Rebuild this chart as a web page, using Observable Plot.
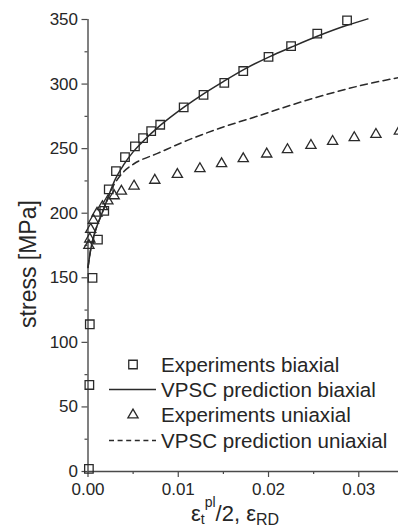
<!DOCTYPE html>
<html>
<head>
<meta charset="utf-8">
<script src="https://cdn.jsdelivr.net/npm/d3@7"></script>
<script src="https://cdn.jsdelivr.net/npm/@observablehq/plot@0.6"></script>
<style>
  html, body { margin: 0; padding: 0; background: #fff; }
  #chart svg { display: block; }
</style>
</head>
<body>
<div id="chart"></div>
<script>
// Experiments, biaxial: strain (eps_t^pl / 2) and stress [MPa]
const biaxExpStrain = [0.0001, 0.00015, 0.0002, 0.0005, 0.0011, 0.0018, 0.0023, 0.0031, 0.0041, 0.0052, 0.0061, 0.0070, 0.0080, 0.0106, 0.0128, 0.0151, 0.0172, 0.0200, 0.0225, 0.0254, 0.0287];
const biaxExpStress = [2, 67, 114, 150, 179.5, 201.8, 218.5, 232.6, 243.5, 251.7, 258.2, 263.6, 268.5, 282, 291.7, 301, 310.1, 321, 329.4, 339, 349.3];

// VPSC prediction, biaxial
const biaxVpscStrain = [0, 0.0003, 0.0008, 0.0015, 0.0022, 0.003, 0.004, 0.005, 0.006, 0.008, 0.0106, 0.0128, 0.015, 0.0173, 0.0202, 0.0225, 0.0254, 0.0287, 0.031];
const biaxVpscStress = [158, 172, 186, 199, 212, 226, 238, 247.5, 255, 268, 282, 292.5, 302, 311.4, 321.5, 328.5, 337, 345.5, 350.5];

// Experiments, uniaxial: strain (eps_RD) and stress [MPa]
const uniExpStrain = [0.0001, 0.0002, 0.0003, 0.0006, 0.0010, 0.0016, 0.0022, 0.0029, 0.0037, 0.0051, 0.0074, 0.0099, 0.0124, 0.0148, 0.0172, 0.0198, 0.0221, 0.0247, 0.0271, 0.0295, 0.0319, 0.0345];
const uniExpStress = [175, 180, 187.5, 194.5, 200, 205, 209.5, 213.5, 217, 221, 225.5, 230, 234.5, 238.3, 242.2, 245.8, 249.2, 252.5, 255.6, 258.5, 261, 263.6];

// VPSC prediction, uniaxial
const uniVpscStrain = [0, 0.0003, 0.0008, 0.0015, 0.0022, 0.0025, 0.0031, 0.004, 0.0051, 0.0077, 0.011, 0.0151, 0.0188, 0.0224, 0.0261, 0.0298, 0.0344];
const uniVpscStress = [158, 172, 186, 199, 211.5, 217, 224.5, 232.5, 238.3, 246.3, 256.4, 267, 275.2, 283.5, 291.3, 298.2, 305];

const yMajorTicks = [0, 50, 100, 150, 200, 250, 300, 350];
const yMinorTicks = [25, 75, 125, 175, 225, 275, 325];
const xMajorTicks = [0, 0.01, 0.02, 0.03];
const xMinorTicks = [0.005, 0.015, 0.025];

const legendLabels = ["Experiments biaxial", "VPSC prediction biaxial", "Experiments uniaxial", "VPSC prediction uniaxial"];

const pairs = (xs, ys) => xs.map((x, i) => ({x, y: ys[i]}));
const biaxExp = pairs(biaxExpStrain, biaxExpStress);
const biaxVpsc = pairs(biaxVpscStrain, biaxVpscStress);
const uniExp = pairs(uniExpStrain, uniExpStress);
const uniVpsc = pairs(uniVpscStrain, uniVpscStress);

const ink = "#2a2a2a";
const axisInk = "#4a4a4a";

const chart = Plot.plot({
  width: 398,
  height: 528,
  marginLeft: 87.5,
  marginRight: 0,
  marginTop: 19,
  marginBottom: 57,
  style: {fontFamily: "'Liberation Sans', Arial, sans-serif", fontSize: "17px", color: "#262626", background: "#fff"},
  x: {domain: [0, 0.0344]},
  y: {domain: [0, 350]},
  marks: [
    Plot.axisY({ticks: yMajorTicks, tickSize: 6, tickPadding: 4, label: null, stroke: axisInk, strokeWidth: 1.2}),
    Plot.axisY({ticks: yMinorTicks, tickSize: 3, tickFormat: () => "", label: null, stroke: axisInk, strokeWidth: 1.2}),
    Plot.axisX({ticks: xMajorTicks, tickSize: 6, tickPadding: 5, tickFormat: d3.format(".2f"), label: null, stroke: axisInk, strokeWidth: 1.2}),
    Plot.axisX({ticks: xMinorTicks, tickSize: 3, tickFormat: () => "", label: null, stroke: axisInk, strokeWidth: 1.2}),
    Plot.ruleX([0], {stroke: axisInk, strokeWidth: 1.4}),
    Plot.ruleY([0], {stroke: axisInk, strokeWidth: 1.4}),
    Plot.line(uniVpsc, {x: "x", y: "y", curve: "monotone-x", stroke: ink, strokeWidth: 1.5, strokeDasharray: "7,4.5"}),
    Plot.line(biaxVpsc, {x: "x", y: "y", curve: "monotone-x", stroke: ink, strokeWidth: 1.5}),
    Plot.dot(biaxExp, {x: "x", y: "y", symbol: "square", r: 4.8, stroke: ink, strokeWidth: 1.3, fill: "none"}),
    Plot.dot(uniExp, {x: "x", y: "y", symbol: "triangle", r: 3.8, stroke: ink, strokeWidth: 1.3, fill: "none"})
  ]
});

const svg = d3.select(chart);

// y-axis title
svg.append("text")
  .attr("transform", "translate(36,264) rotate(-90)")
  .attr("text-anchor", "middle")
  .attr("font-size", 23)
  .attr("fill", "#262626")
  .text("stress [MPa]");

// x-axis title with sub/superscripts
const xt = svg.append("text")
  .attr("x", 191)
  .attr("y", 521)
  .attr("text-anchor", "start")
  .attr("font-size", 22)
  .attr("fill", "#262626");
xt.append("tspan").text("ε");
xt.append("tspan").attr("font-size", 14).attr("dy", 3).text("t");
xt.append("tspan").attr("font-size", 14).attr("dy", -17).text("pl");
xt.append("tspan").attr("dy", 14).text("/2, ε");
xt.append("tspan").attr("font-size", 16).attr("dy", 4).text("RD");

// legend
const lg = svg.append("g").attr("font-size", 19.5).attr("fill", "#262626").attr("text-anchor", "start");
const rowY = [364.5, 389.5, 415, 440.5];
const sym = (type, r) => d3.symbol(type, Math.PI * r * r)();
lg.append("path").attr("d", sym(d3.symbolSquare, 4.8)).attr("transform", `translate(133,${rowY[0]})`)
  .attr("fill", "none").attr("stroke", ink).attr("stroke-width", 1.3);
lg.append("line").attr("x1", 109).attr("x2", 156).attr("y1", rowY[1]).attr("y2", rowY[1])
  .attr("stroke", ink).attr("stroke-width", 1.5);
lg.append("path").attr("d", sym(d3.symbolTriangle, 3.8)).attr("transform", `translate(133,${rowY[2]})`)
  .attr("fill", "none").attr("stroke", ink).attr("stroke-width", 1.3);
lg.append("line").attr("x1", 109).attr("x2", 156).attr("y1", rowY[3]).attr("y2", rowY[3])
  .attr("stroke", ink).attr("stroke-width", 1.5).attr("stroke-dasharray", "5,3.6");
legendLabels.forEach((t, i) => {
  lg.append("text")
    .attr("transform", `translate(161,${rowY[i] + 7}) scale(1.055,1)`)
    .text(t);
});

document.getElementById("chart").appendChild(chart);
</script>
</body>
</html>
